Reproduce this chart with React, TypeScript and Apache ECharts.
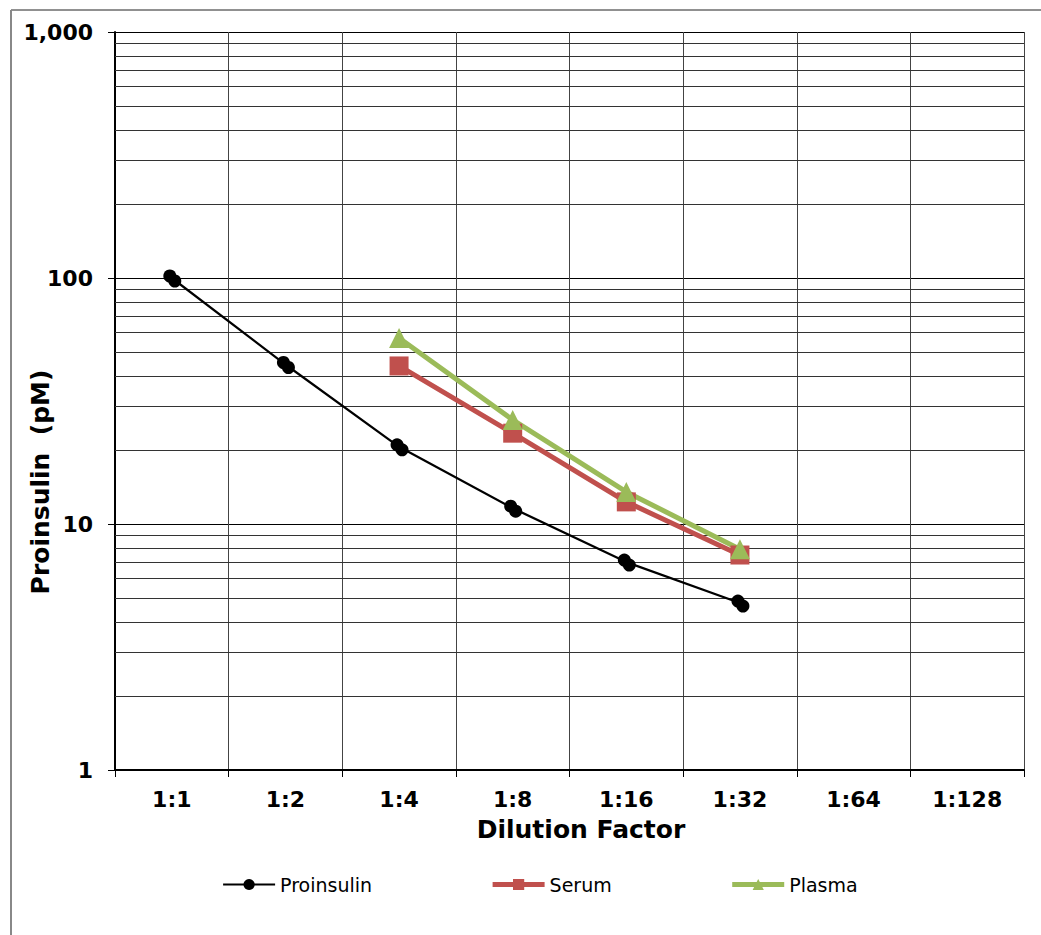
import React, { useEffect, useRef } from 'react';
import * as echarts from 'echarts';

const categories = ['1:1', '1:2', '1:4', '1:8', '1:16', '1:32', '1:64', '1:128'];
const proinsulin: (number | string)[] = [100, 44.5, 20.6, 11.6, 7.0, 4.77, '-', '-'];
const serum: (number | string)[] = ['-', '-', 43.9, 23.4, 12.3, 7.48, '-', '-'];
const plasma: (number | string)[] = ['-', '-', 57.0, 26.5, 13.5, 7.9, '-', '-'];
const minorGridValues = [2, 3, 4, 5, 6, 7, 8, 9, 20, 30, 40, 50, 60, 70, 80, 90, 200, 300, 400, 500, 600, 700, 800, 900];
const xTitle = 'Dilution Factor';
const yTitle = 'Proinsulin  (pM)';

const FONT = 'DejaVu Sans';

export default function App() {
  const ref = useRef<HTMLDivElement>(null);
  useEffect(() => {
    document.body.style.margin = '0';
    const chart = echarts.init(ref.current!, null, { renderer: 'svg' });
    chart.setOption({
      animation: false,
      backgroundColor: '#fff',
      grid: { left: 115, top: 32, width: 909, height: 738, containLabel: false },
      legend: {
        data: [
          { name: 'Proinsulin', lineStyle: { width: 2.2 } },
          { name: 'Serum', lineStyle: { width: 5 } },
          { name: 'Plasma', lineStyle: { width: 5 } },
        ],
        left: 217,
        top: 870,
        itemWidth: 52,
        itemHeight: 14,
        itemGap: 118,
        textStyle: { fontFamily: FONT, fontSize: 19, color: '#000' },
      },
      xAxis: {
        type: 'category',
        data: categories,
        boundaryGap: true,
        axisLine: { lineStyle: { color: '#000', width: 2 } },
        axisTick: { show: true, length: 7, lineStyle: { color: '#000', width: 1 } },
        axisLabel: { fontFamily: FONT, fontWeight: 'bold', fontSize: 22, color: '#000', margin: 18 },
        splitLine: { show: true, lineStyle: { color: '#444', width: 1 } },
      },
      yAxis: {
        type: 'log',
        logBase: 10,
        min: 1,
        max: 1000,
        axisLine: { show: true, lineStyle: { color: '#000', width: 2 } },
        axisTick: { show: true, length: 7, lineStyle: { color: '#000', width: 1 } },
        axisLabel: {
          fontFamily: FONT, fontWeight: 'bold', fontSize: 22, color: '#000', margin: 22,
          formatter: (v: number) => Math.round(v).toLocaleString('en-US'),
        },
        splitLine: { show: true, lineStyle: { color: '#000', width: 1 } },
      },
      graphic: [
        { type: 'line', shape: { x1: 11, y1: 10, x2: 1041, y2: 10 }, style: { stroke: '#222', lineWidth: 1 } },
        { type: 'line', shape: { x1: 11, y1: 10, x2: 11, y2: 935 }, style: { stroke: '#888', lineWidth: 2 } },
        {
          type: 'text', x: 581, y: 829,
          style: { text: xTitle, font: `bold 25px "${FONT}"`, fill: '#000', align: 'center', verticalAlign: 'middle' },
        },
        {
          type: 'text', x: 40, y: 482, rotation: Math.PI / 2,
          style: { text: yTitle, font: `bold 25px "${FONT}"`, fill: '#000', align: 'center', verticalAlign: 'middle' },
        },
      ],
      series: [
        {
          name: 'Proinsulin',
          type: 'line',
          data: proinsulin,
          z: 3,
          color: '#000',
          symbol: 'circle',
          symbolSize: 13,
          symbolOffset: [-2, -2],
          lineStyle: { color: '#000', width: 2.2 },
          itemStyle: { color: '#000', opacity: 1 },
          markLine: {
            silent: true,
            z: 1,
            symbol: ['none', 'none'],
            label: { show: false },
            lineStyle: { color: '#333', width: 1, type: 'solid' },
            data: minorGridValues.map((v) => ({ yAxis: v })),
          },
        },
        {
          name: 'ProinsulinReplicate',
          type: 'scatter',
          data: proinsulin,
          z: 3,
          symbol: 'circle',
          symbolSize: 13,
          symbolOffset: [3, 3],
          itemStyle: { color: '#000', opacity: 1 },
        },
        {
          name: 'Serum',
          type: 'line',
          data: serum,
          z: 2,
          color: '#C0504D',
          symbol: 'rect',
          symbolSize: 19,
          lineStyle: { color: '#C0504D', width: 5 },
          itemStyle: { color: '#C0504D' },
        },
        {
          name: 'Plasma',
          type: 'line',
          data: plasma,
          z: 2,
          color: '#9BBB59',
          symbol: 'triangle',
          symbolSize: 20,
          lineStyle: { color: '#9BBB59', width: 5 },
          itemStyle: { color: '#9BBB59' },
        },
      ],
    });
    return () => chart.dispose();
  }, []);
  return <div ref={ref} style={{ position: 'absolute', left: 0, top: 0, width: 1041, height: 935 }} />;
}
